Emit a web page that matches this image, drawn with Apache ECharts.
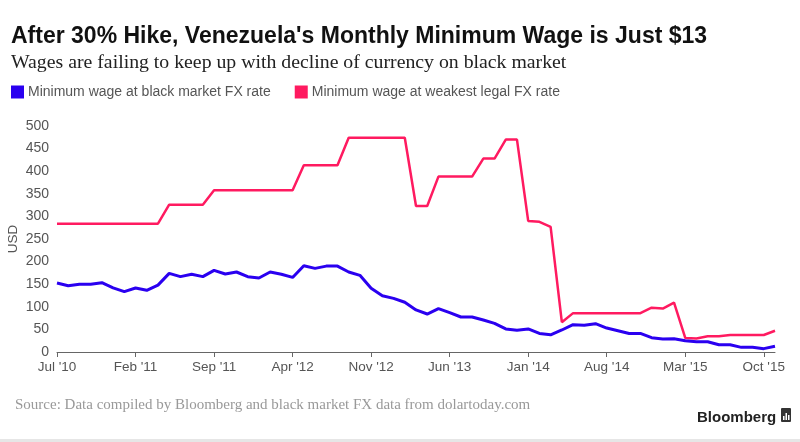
<!DOCTYPE html>
<html>
<head>
<meta charset="utf-8">
<script src="https://cdn.jsdelivr.net/npm/echarts@6/dist/echarts.min.js"></script>
<style>
html,body{margin:0;padding:0;background:#fff;}
#c{width:800px;height:442px;}
</style>
</head>
<body>
<div id="c"></div>
<script>
var months = ["Jul '10","Aug '10","Sep '10","Oct '10","Nov '10","Dec '10","Jan '11","Feb '11","Mar '11","Apr '11","May '11","Jun '11","Jul '11","Aug '11","Sep '11","Oct '11","Nov '11","Dec '11","Jan '12","Feb '12","Mar '12","Apr '12","May '12","Jun '12","Jul '12","Aug '12","Sep '12","Oct '12","Nov '12","Dec '12","Jan '13","Feb '13","Mar '13","Apr '13","May '13","Jun '13","Jul '13","Aug '13","Sep '13","Oct '13","Nov '13","Dec '13","Jan '14","Feb '14","Mar '14","Apr '14","May '14","Jun '14","Jul '14","Aug '14","Sep '14","Oct '14","Nov '14","Dec '14","Jan '15","Feb '15","Mar '15","Apr '15","May '15","Jun '15","Jul '15","Aug '15","Sep '15","Oct '15","Nov '15"];

var blackMarket = [152.6,146.7,149.7,149.7,153.4,142,133.5,141.6,136.5,148,
  174,166.7,172,166.7,180.5,172.6,177,166.7,163.7,177,
  172,165,191,185,190,190,177,169.6,141,124.6,
  118.7,110,93,84,96,87,77.4,77.4,70.8,63.4,
  51,48,51,41,38,48.7,60.5,59,62.7,53,
  47,41,41,31.7,28.8,29.5,25,22.8,22.8,16,
  16,10.3,10.3,7.4,12.6];

var weakestLegal = [284,284,284,284,284,284,284,284,284,284,
  326,326,326,326,358,358,358,358,358,358,
  358,358,413,413,413,413,474,474,474,474,
  474,474,323,323,388,388,388,388,428,428,
  470,470,290,288,277,66,86,86,86,86,
  86,86,86,98,96,109,31,30,35,35,
  37.6,37.6,37.6,37.6,47];

var yTicks = {min:0, max:500, interval:50};

var chart = echarts.init(document.getElementById('c'), null, {renderer:'canvas'});
var sans = '"Liberation Sans", Arial, sans-serif';
var serif = '"Liberation Serif", "DejaVu Serif", serif';
chart.setOption({
  animation:false,
  backgroundColor:'#fff',
  title:[
    {text:"After 30% Hike, Venezuela's Monthly Minimum Wage is Just $13", left:6, top:20,
     textStyle:{fontFamily:sans, fontWeight:'bold', fontSize:23, color:'#111'}},
    {text:"Wages are failing to keep up with decline of currency on black market", left:6, top:48,
     textStyle:{fontFamily:serif, fontWeight:'normal', fontSize:19.8, color:'#222'}},
    {text:"Source: Data compiled by Bloomberg and black market FX data from dolartoday.com", left:10, top:393,
     textStyle:{fontFamily:serif, fontWeight:'normal', fontSize:15, color:'#999'}},
    {text:"Bloomberg", left:692, top:405,
     textStyle:{fontFamily:sans, fontWeight:'bold', fontSize:15, color:'#222'}}
  ],
  graphic:[
    {type:'rect', left:781, top:408, shape:{width:10, height:14, r:1}, style:{fill:'#333'}},
    {type:'rect', left:783, top:416, shape:{width:1.5, height:4}, style:{fill:'#fff'}},
    {type:'rect', left:785.5, top:413, shape:{width:1.5, height:7}, style:{fill:'#fff'}},
    {type:'rect', left:788, top:415, shape:{width:1.5, height:5}, style:{fill:'#fff'}},
    {type:'rect', left:0, top:439, shape:{width:800, height:3}, style:{fill:'#e6e6e6'}}
  ],
  legend:{
    left:6, top:85, itemWidth:13, itemHeight:13, itemGap:24, icon:'rect', padding:[0,5,0,5],
    textStyle:{fontFamily:sans, fontSize:14, color:'#555', padding:[0,0,0,-1]},
    data:['Minimum wage at black market FX rate','Minimum wage at weakest legal FX rate']
  },
  grid:{left:57, right:25, top:126, bottom:90, containLabel:false, outerBoundsMode:'none'},
  xAxis:{
    type:'category', data:months, boundaryGap:false,
    axisLine:{lineStyle:{color:'#666', width:1}},
    axisTick:{interval:6, length:5, lineStyle:{color:'#666'}},
    axisLabel:{interval:6, color:'#555', fontFamily:sans, fontSize:13.5, margin:8}
  },
  yAxis:{
    type:'value', min:yTicks.min, max:yTicks.max, interval:yTicks.interval,
    name:'USD', nameLocation:'middle', nameGap:37, nameRotate:90, nameMoveOverlap:false,
    nameTextStyle:{color:'#555', fontFamily:sans, fontSize:13.5},
    axisLine:{show:false}, axisTick:{show:false}, splitLine:{show:false},
    axisLabel:{color:'#555', fontFamily:sans, fontSize:14, margin:8}
  },
  series:[
    {name:'Minimum wage at black market FX rate', type:'line', data:blackMarket, symbol:'none',
     itemStyle:{color:'#2a00f0'}, lineStyle:{color:'#2a00f0', width:3}, z:3},
    {name:'Minimum wage at weakest legal FX rate', type:'line', data:weakestLegal, symbol:'none',
     itemStyle:{color:'#ff1a60'}, lineStyle:{color:'#ff1a60', width:2.5}, z:2}
  ]
});
</script>
</body>
</html>
